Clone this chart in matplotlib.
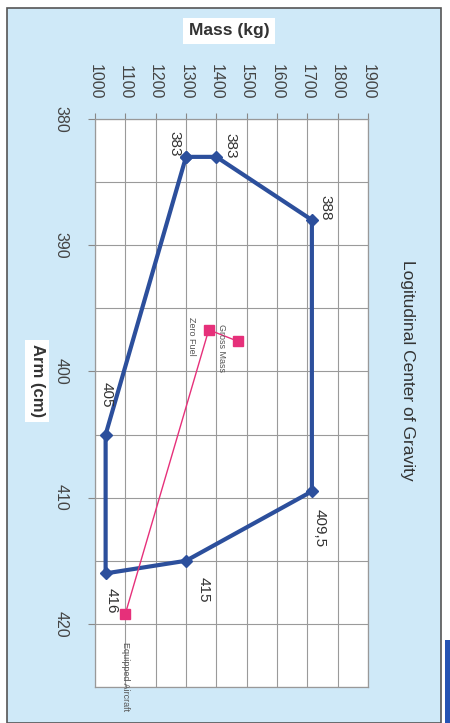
import matplotlib.pyplot as plt
from matplotlib.patches import Rectangle

plt.rcParams['font.family'] = ['Liberation Sans', 'DejaVu Sans']

# envelope corners (mass kg, arm cm)
env_mass = [1300, 1400, 1715, 1715, 1300, 1035, 1035, 1300]
env_arm = [383, 383, 388, 409.5, 415, 416, 405, 383]
env_labels = ["383", "383", "388", "409,5", "415", "416", "405"]

# loading path
load_mass = [1100, 1375, 1470]
load_arm = [419.2, 396.7, 397.6]
load_names = ["Equipped Aircraft", "Zero Fuel", "Gross Mass"]

mass_ticks = list(range(1000, 2000, 100))
arm_ticks = [380, 390, 400, 410, 420]

# label offsets in image pixels (right, down)
env_off = [(-12, -13), (14, -11), (14, -12), (8, 37), (18, 29), (6, 27), (1, -40)]
load_off = [(0, 63), (-17, 7), (-16, 7)]

W, H = 450, 723
fig = plt.figure(figsize=(W / 100, H / 100), dpi=100, facecolor='white')

# light blue card with border
fig.patches.append(Rectangle((7 / W, 0), (441 - 7) / W, 1 - 8 / H, transform=fig.transFigure,
                             facecolor='#cfe9f8', edgecolor='#555555', lw=1.2, zorder=-2))
fig.patches.append(Rectangle((445 / W, 0), 5 / W, (723 - 640) / H, transform=fig.transFigure,
                             facecolor='#2654b4', edgecolor='none', zorder=-2))

ax = fig.add_axes([95 / W, 1 - 687 / H, (368 - 95) / W, (687 - 119) / H])
ax.set_facecolor('white')
ax.set_xlim(1000, 1900)
ax.set_ylim(425, 380)

ax.set_xticks(mass_ticks)
ax.set_yticks(arm_ticks)
ax.set_yticks([385, 395, 405, 415, 425], minor=True)
ax.xaxis.tick_top()
ax.grid(True, which='both', color='#9a9a9a', lw=0.8)
ax.set_axisbelow(True)
for s in ax.spines.values():
    s.set_color('#999999')
    s.set_linewidth(0.9)

ax.tick_params(axis='x', which='major', direction='out', length=4, color='#888888',
               pad=10, labelsize=11.5, labelcolor='#444444', labelrotation=-90)
ax.tick_params(axis='y', which='major', direction='out', length=5, color='#888888',
               pad=14, labelsize=11.5, labelcolor='#444444', labelrotation=-90)
ax.tick_params(axis='y', which='minor', length=0)
for t in ax.get_yticklabels():
    t.set_va('center')
    t.set_ha('right')

ax.plot(env_mass, env_arm, color='#2c4f9c', lw=3, marker='D', markersize=6, zorder=3)
ax.plot(load_mass, load_arm, color='#e6307a', lw=1, marker='s', markersize=6.5, zorder=4)

for m, a, lab, (dx, dy) in zip(env_mass, env_arm, env_labels, env_off):
    ax.annotate(lab, (m, a), xytext=(dx * 0.72, -dy * 0.72), textcoords='offset points',
                rotation=-90, ha='center', va='center', fontsize=11, color='#333333', zorder=5)

for m, a, lab, (dx, dy) in zip(load_mass, load_arm, load_names, load_off):
    ax.annotate(lab, (m, a), xytext=(dx * 0.72, -dy * 0.72), textcoords='offset points',
                rotation=-90, ha='center', va='center', fontsize=6.5, color='#555555', zorder=5)

fig.text(229 / W, 1 - 31 / H, "Mass (kg)", ha='center', va='center', fontsize=12.5,
         fontweight='bold', color='#333333',
         bbox=dict(facecolor='white', edgecolor='none', pad=4))
fig.text(37 / W, 1 - 381 / H, "Arm (cm)", ha='center', va='center', fontsize=12,
         fontweight='bold', color='#333333', rotation=-90,
         bbox=dict(facecolor='white', edgecolor='none', pad=3))
fig.text(408 / W, 1 - 370 / H, "Logitudinal Center of Gravity", ha='center', va='center',
         fontsize=12.5, color='#333333', rotation=-90)

fig.savefig("out.png", dpi=100, facecolor=fig.get_facecolor())
